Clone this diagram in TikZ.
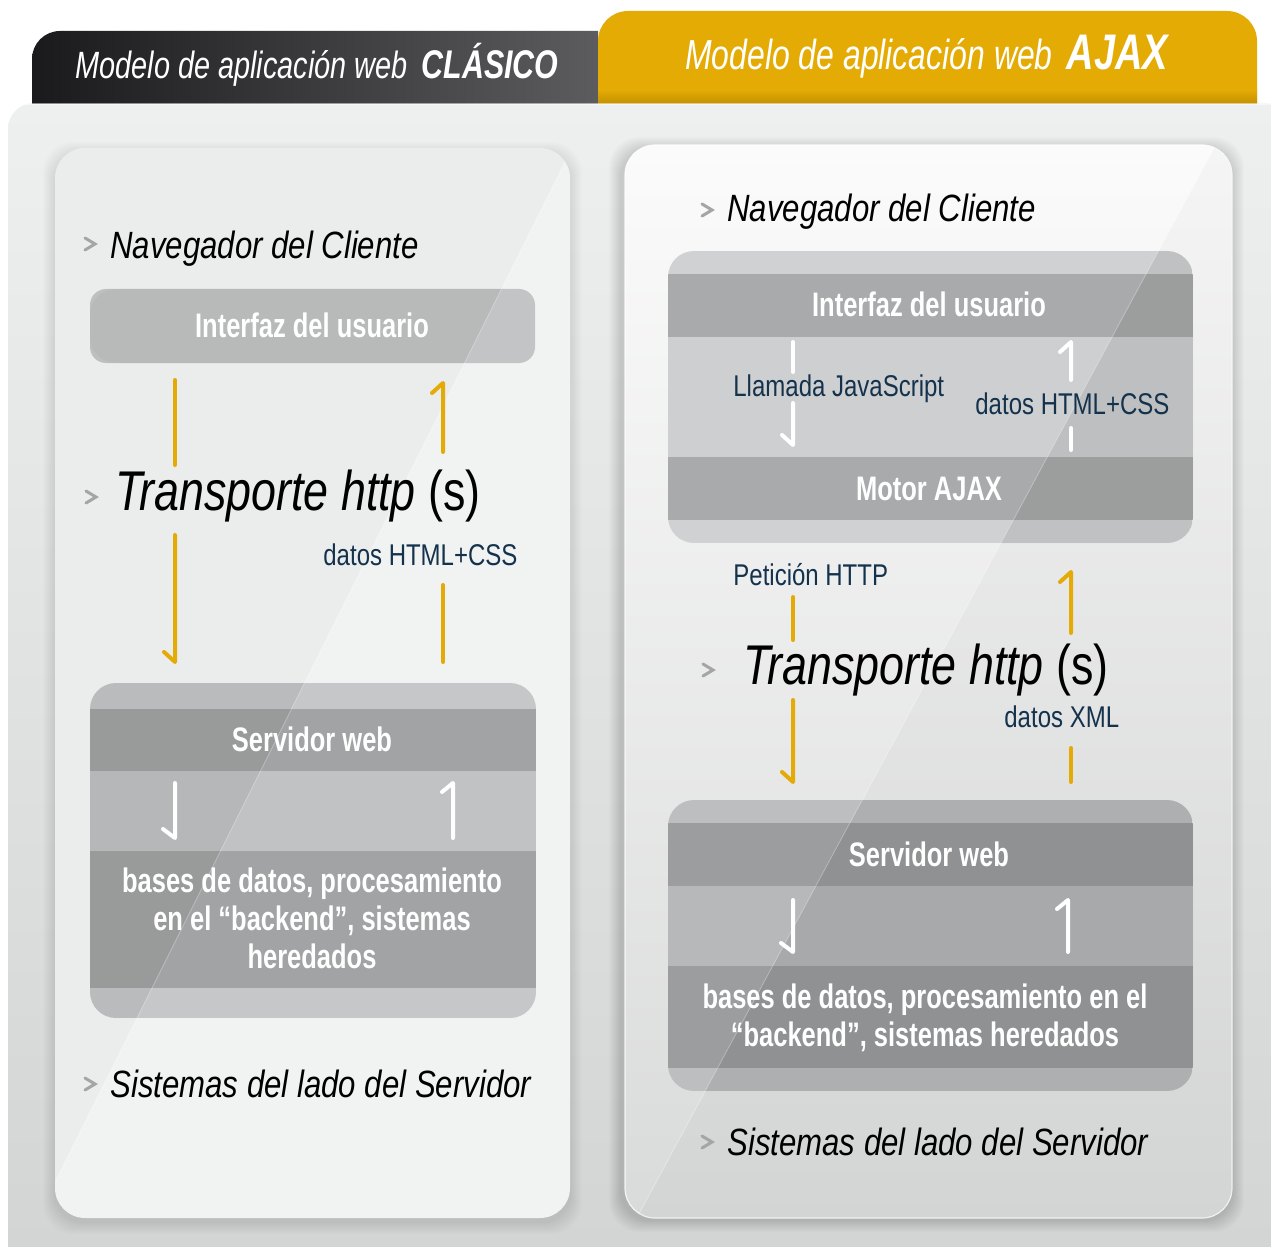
\documentclass[tikz,border=0pt]{standalone}
\usepackage{fontspec}
\setmainfont{Liberation Sans}
\newfontfamily\lblfont[FakeStretch=0.82]{Liberation Sans}
\newfontfamily\trfont[FakeStretch=0.80]{Liberation Sans}
\newfontfamily\boxfont[FakeStretch=0.75]{Liberation Sans}
\newfontfamily\navyfont[FakeStretch=0.80]{Liberation Sans}
\newfontfamily\tabfont[FakeStretch=0.76]{Liberation Sans}
\definecolor{tabL}{HTML}{1A191B}
\definecolor{tabR}{HTML}{5C5C5E}
\definecolor{goldtab}{HTML}{E4AB05}
\definecolor{golddark}{HTML}{B58500}
\definecolor{panelT}{HTML}{EEEFEF}
\definecolor{panelB}{HTML}{D2D3D3}
\definecolor{cardL}{HTML}{F1F2F2}
\definecolor{cardRT}{HTML}{FBFBFB}
\definecolor{cardRB}{HTML}{D9DADA}
\definecolor{chevc}{HTML}{A5A5A5}
\definecolor{navyc}{HTML}{15324D}
\definecolor{goldarr}{HTML}{E4AA06}
\definecolor{lIface}{HTML}{C3C4C5}
\definecolor{lLight}{HTML}{C6C7C8}
\definecolor{lDark}{HTML}{A2A3A4}
\definecolor{lMid}{HTML}{C1C2C3}
\definecolor{rLight}{HTML}{D0D1D2}
\definecolor{rDark}{HTML}{A9AAAB}
\definecolor{rMid}{HTML}{CECFD0}
\definecolor{sLight}{HTML}{BDBEBF}
\definecolor{sDark}{HTML}{9C9D9E}
\definecolor{sMid}{HTML}{B7B8B9}
\begin{document}
\begin{tikzpicture}[x=0.5pt,y=-0.5pt,
  lbl/.style={anchor=base west, inner sep=0pt, text=black, font=\lblfont\itshape\fontsize{19}{22}\selectfont},
  trlbl/.style={anchor=base west, inner sep=0pt, text=black, font=\trfont\fontsize{28}{32}\selectfont},
  navy/.style={anchor=base west, inner sep=0pt, text=navyc, font=\navyfont\fontsize{15}{18}\selectfont},
  boxtxt/.style={anchor=base, inner sep=0pt, text=white, font=\boxfont\bfseries\fontsize{17}{19}\selectfont},
  tabtxt/.style={anchor=base west, inner sep=0pt, text=white, font=\tabfont\itshape\fontsize{19}{22}\selectfont},
  garrow/.style={draw=goldarr, line width=2pt, line cap=round, line join=round},
  warrow/.style={draw=white, line width=2pt, line cap=round, line join=round},
  chev/.style={draw=chevc, line width=1.5pt, line cap=round, line join=miter}
]
\useasboundingbox (0,0) rectangle (1271,1247);
\fill[white] (0,0) rectangle (1271,1247);

% main panel
\shade[top color=panelT, bottom color=panelB, rounded corners=13pt] (8,103) rectangle (1290,1290);

% tabs
\shade[left color=tabL, right color=tabR] (32,104) -- (32,59) arc[start angle=180,end angle=90,radius=14pt] -- (598,31) -- (598,104) -- cycle;
\fill[goldtab] (598,104) -- (598,41) arc[start angle=180,end angle=90,radius=15pt] -- (1227,11) arc[start angle=90,end angle=0,radius=15pt] -- (1257,104) -- cycle;
\shade[top color=goldtab, bottom color=golddark, opacity=0.7] (598,90) rectangle (1257,104);
\fill[white,opacity=0.5] (8,103) rectangle (1271,105);

% soft card shadows
\foreach \k in {1,...,12} {
  \fill[black,opacity=0.009,rounded corners=15pt] ({55-\k},{148-\k+6}) rectangle ({570+\k},{1218+\k+4});
  \fill[black,opacity=0.011,rounded corners=15pt] ({625-\k-4},{145-\k+4}) rectangle ({1232+\k},{1218+\k+2});
}
\fill[cardL, rounded corners=15pt] (55,148) rectangle (570,1218);
\shade[top color=cardRT, bottom color=cardRB, rounded corners=15pt] (625,145) rectangle (1232,1218);
\draw[white, opacity=0.8, line width=0.6pt, rounded corners=15pt] (625,145) rectangle (1232,1218);

% left boxes
\fill[lIface, rounded corners=8pt] (90,289) rectangle (535,363);
\begin{scope}
  \clip[rounded corners=13pt] (90,683) rectangle (536,1018);
  \fill[lLight] (90,683) rectangle (536,1018);
  \fill[lDark] (90,709) rectangle (536,771);
  \fill[lMid] (90,771) rectangle (536,851);
  \fill[lDark] (90,851) rectangle (536,988);
\end{scope}

% right boxes
\begin{scope}
  \clip[rounded corners=13pt] (668,251) rectangle (1193,543);
  \fill[rLight] (668,251) rectangle (1193,543);
  \fill[rDark] (668,274) rectangle (1193,337);
  \fill[rMid] (668,337) rectangle (1193,457);
  \fill[rDark] (668,457) rectangle (1193,520);
\end{scope}
\begin{scope}
  \clip[rounded corners=13pt] (668,800) rectangle (1193,1091);
  \fill[sLight] (668,800) rectangle (1193,1091);
  \fill[sDark] (668,823) rectangle (1193,886);
  \fill[sMid] (668,886) rectangle (1193,966);
  \fill[sDark] (668,966) rectangle (1193,1068);
\end{scope}

% diagonal sheen
\begin{scope}
  \clip[rounded corners=15pt] (55,148) rectangle (570,1218);
  \fill[black,opacity=0.025] (0,100) -- (596,100) -- (16,1260) -- (0,1260) -- cycle;
  \draw[white,opacity=0.35,line width=0.4pt] (596,100) -- (16,1260);
\end{scope}
\begin{scope}
  \clip[rounded corners=13pt] (90,289) rectangle (535,363) (90,683) rectangle (536,1018);
  \fill[black,opacity=0.03] (0,100) -- (596,100) -- (16,1260) -- (0,1260) -- cycle;
\end{scope}
\begin{scope}
  \clip[rounded corners=15pt] (625,145) rectangle (1232,1218);
  \fill[black,opacity=0.025] (1240,100) -- (1300,100) -- (1300,1260) -- (614,1260) -- cycle;
  \draw[white,opacity=0.35,line width=0.4pt] (1240,100) -- (614,1260);
\end{scope}
\begin{scope}
  \clip[rounded corners=13pt] (668,251) rectangle (1193,543) (668,800) rectangle (1193,1091);
  \fill[black,opacity=0.05] (1240,100) -- (1300,100) -- (1300,1260) -- (614,1260) -- cycle;
\end{scope}

% tab texts
\node[tabtxt] (tabl) at (75,79) {Modelo de aplicación web\hspace{7pt}{\bfseries\fontsize{20}{22}\selectfont CLÁSICO}};
\node[tabtxt, font=\tabfont\itshape\fontsize{21}{24}\selectfont] (tabr) at (685,70) {Modelo de aplicación web\hspace{7pt}{\bfseries\fontsize{25}{26}\selectfont AJAX}};

% left labels
\draw[chev] (85,238) -- (95,244) -- (85,250);
\node[lbl] (lnav) at (110,258) {Navegador del Cliente};
\draw[chev] (86,491) -- (96,497) -- (86,503);
\node[trlbl] (ltr) at (115,510) {\textit{Transporte http} (s)};
\node[navy] (lhtml) at (323,565) {datos HTML+CSS};
\draw[chev] (85,1078) -- (95,1084) -- (85,1090);
\node[lbl] (lsis) at (110,1097) {Sistemas del lado del Servidor};

% left box texts
\node[boxtxt] (lif) at (312,337) {Interfaz del usuario};
\node[boxtxt] (lsw) at (312,751) {Servidor web};
\node[boxtxt] (lb1) at (312,892) {bases de datos, procesamiento};
\node[boxtxt] (lb2) at (312,930) {en el “backend”, sistemas};
\node[boxtxt] (lb3) at (312,968) {heredados};

% right labels
\draw[chev] (702,204) -- (712,210) -- (702,216);
\node[lbl] (rnav) at (727,222) {Navegador del Cliente};
\node[navy] (rjs) at (733,396) {Llamada JavaScript};
\node[navy] (rhtml) at (975,415) {datos HTML+CSS};
\node[navy] (rpet) at (733,585) {Petición HTTP};
\draw[chev] (703,664) -- (713,670) -- (703,676);
\node[trlbl] (rtr) at (743,684) {\textit{Transporte http} (s)};
\node[navy] (rxml) at (1004,727) {datos XML};
\draw[chev] (702,1136) -- (712,1142) -- (702,1148);
\node[lbl] (rsis) at (727,1155) {Sistemas del lado del Servidor};

% right box texts
\node[boxtxt] (rif) at (929,316) {Interfaz del usuario};
\node[boxtxt] (rmo) at (929,500) {Motor AJAX};
\node[boxtxt] (rsw) at (929,866) {Servidor web};
\node[boxtxt] (rb1) at (925,1008) {bases de datos, procesamiento en el};
\node[boxtxt] (rb2) at (925,1046) {“backend”, sistemas heredados};

% left arrows
\coordinate (l1a) at (175,380); \coordinate (l1b) at (175,465);
\coordinate (l2a) at (175,535); \coordinate (l2b) at (175,662);
\coordinate (l3a) at (443,452); \coordinate (l3b) at (443,383);
\coordinate (l4a) at (443,662); \coordinate (l4b) at (443,585);
\draw[garrow] (l1a) -- (l1b);
\draw[garrow] (l2a) -- (l2b) -- ++(-11,-10);
\draw[garrow] (l3a) -- (l3b) -- ++(-11,10);
\draw[garrow] (l4a) -- (l4b);
\coordinate (l5a) at (175,783); \coordinate (l5b) at (175,838);
\coordinate (l6a) at (453,838); \coordinate (l6b) at (453,783);
\draw[warrow] (l5a) -- (l5b) -- ++(-12,-9);
\draw[warrow] (l6a) -- (l6b) -- ++(-11,9);

% right arrows
\coordinate (r1a) at (793,342); \coordinate (r1b) at (793,372);
\coordinate (r2a) at (793,403); \coordinate (r2b) at (793,445);
\coordinate (r3a) at (1071,450); \coordinate (r3b) at (1071,428);
\coordinate (r4a) at (1071,380); \coordinate (r4b) at (1071,342);
\draw[warrow] (r1a) -- (r1b);
\draw[warrow] (r2a) -- (r2b) -- ++(-11,-10);
\draw[warrow] (r3a) -- (r3b);
\draw[warrow] (r4a) -- (r4b) -- ++(-11,10);
\coordinate (r5a) at (793,597); \coordinate (r5b) at (793,640);
\coordinate (r6a) at (793,700); \coordinate (r6b) at (793,782);
\coordinate (r7a) at (1071,782); \coordinate (r7b) at (1071,748);
\coordinate (r8a) at (1071,633); \coordinate (r8b) at (1071,572);
\draw[garrow] (r5a) -- (r5b);
\draw[garrow] (r6a) -- (r6b) -- ++(-11,-10);
\draw[garrow] (r7a) -- (r7b);
\draw[garrow] (r8a) -- (r8b) -- ++(-11,10);
\coordinate (r9a) at (793,900); \coordinate (r9b) at (793,952);
\coordinate (r10a) at (1068,952); \coordinate (r10b) at (1068,900);
\draw[warrow] (r9a) -- (r9b) -- ++(-12,-9);
\draw[warrow] (r10a) -- (r10b) -- ++(-11,9);
\end{tikzpicture}
\end{document}
